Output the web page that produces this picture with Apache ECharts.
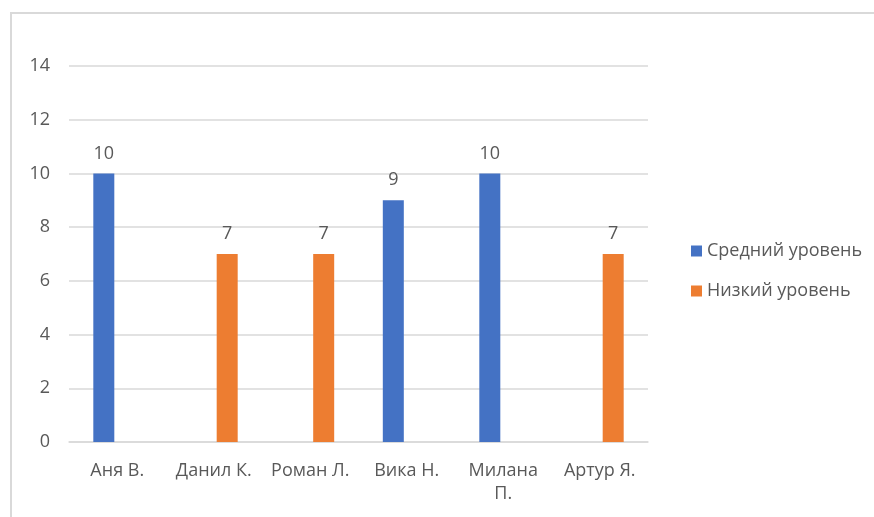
<!DOCTYPE html>
<html>
<head>
<meta charset="utf-8">
<script src="https://cdn.jsdelivr.net/npm/echarts@6/dist/echarts.min.js"></script>
<style>
  html, body { margin: 0; padding: 0; background: #fff; }
  #chart { width: 874px; height: 517px; }
</style>
</head>
<body>
<div id="chart"></div>
<script>
// Students and their scores by level
const categories = ['Аня В.', 'Данил К.', 'Роман Л.', 'Вика Н.', 'Милана\nП.', 'Артур Я.'];
const middleLevel = [10, null, null, 9, 10, null];
const lowLevel = [null, 7, 7, null, null, 7];
const seriesNames = ['Средний уровень', 'Низкий уровень'];

const textColor = '#595959';
const fontFamily = '"Open Sans", "Noto Sans", sans-serif';

const chart = echarts.init(document.getElementById('chart'), null, { renderer: 'canvas' });

const labelStyle = {
  show: true,
  position: 'top',
  distance: 11,
  color: textColor,
  fontSize: 18,
  fontFamily: fontFamily
};

chart.setOption({
  animation: false,
  backgroundColor: '#fff',
  graphic: [{
    type: 'rect',
    shape: { x: 11, y: 13, width: 900, height: 600 },
    style: { fill: 'none', stroke: '#d9d9d9', lineWidth: 2 },
    silent: true
  }],
  grid: { left: 69, right: 226, top: 66, bottom: 75 },
  legend: {
    orient: 'vertical',
    left: 686,
    top: 237,
    itemWidth: 11,
    itemHeight: 11,
    itemGap: 22,
    icon: 'rect',
    textStyle: { color: textColor, fontSize: 18, fontFamily: fontFamily },
    data: seriesNames
  },
  xAxis: {
    type: 'category',
    data: categories,
    axisLine: { lineStyle: { color: '#d9d9d9', width: 1.5 } },
    axisTick: { show: false },
    axisLabel: { color: textColor, fontSize: 18, fontFamily: fontFamily, margin: 17, interval: 0, lineHeight: 23 }
  },
  yAxis: {
    type: 'value',
    min: 0,
    max: 14,
    interval: 2,
    axisLine: { show: false },
    axisTick: { show: false },
    axisLabel: { color: textColor, fontSize: 18, fontFamily: fontFamily, margin: 19 },
    splitLine: { lineStyle: { color: '#d9d9d9', width: 1.5 } }
  },
  series: [
    {
      name: seriesNames[0],
      type: 'bar',
      data: middleLevel,
      barWidth: 21,
      barGap: '28%',
      itemStyle: { color: '#4472c4' },
      label: labelStyle
    },
    {
      name: seriesNames[1],
      type: 'bar',
      data: lowLevel,
      barWidth: 21,
      itemStyle: { color: '#ed7d31' },
      label: labelStyle
    }
  ]
});
</script>
</body>
</html>
